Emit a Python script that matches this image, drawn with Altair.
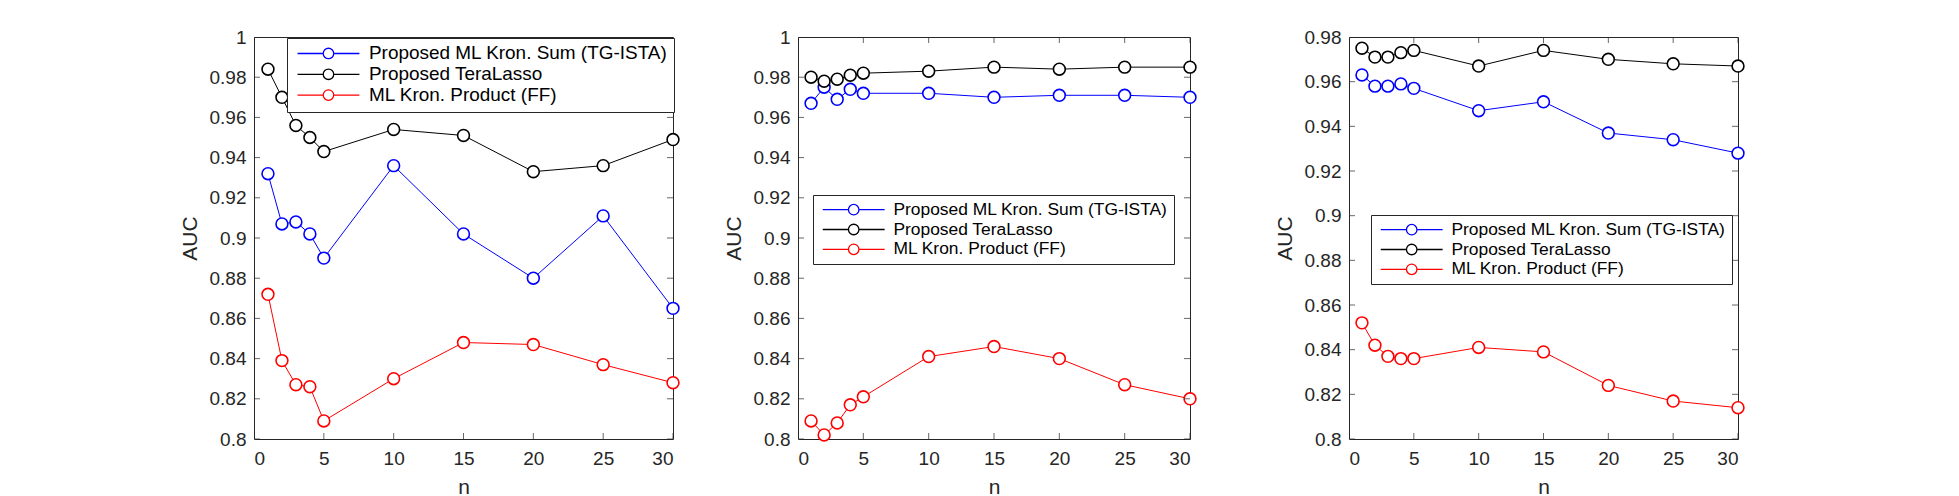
import altair as alt
import pandas as pd

FONT = "Liberation Sans"
INK = "#262626"

n_values = [1, 2, 3, 4, 5, 10, 15, 20, 25, 30]
x_ticks = [0, 5, 10, 15, 20, 25, 30]

series_names = [
    "Proposed ML Kron. Sum (TG-ISTA)",
    "Proposed TeraLasso",
    "ML Kron. Product (FF)",
]
series_colors = ["#0000ff", "#000000", "#ff0000"]

# AUC curves, left panel
p1_kron_sum = [0.932, 0.907, 0.908, 0.902, 0.890, 0.936, 0.902, 0.880, 0.911, 0.865]
p1_teralasso = [0.984, 0.970, 0.956, 0.950, 0.943, 0.954, 0.951, 0.933, 0.936, 0.949]
p1_kron_prod = [0.872, 0.839, 0.827, 0.826, 0.809, 0.830, 0.848, 0.847, 0.837, 0.828]

# AUC curves, middle panel
p2_kron_sum = [0.967, 0.975, 0.969, 0.974, 0.972, 0.972, 0.970, 0.971, 0.971, 0.970]
p2_teralasso = [0.980, 0.978, 0.979, 0.981, 0.982, 0.983, 0.985, 0.984, 0.985, 0.985]
p2_kron_prod = [0.809, 0.802, 0.808, 0.817, 0.821, 0.841, 0.846, 0.840, 0.827, 0.820]

# AUC curves, right panel
p3_kron_sum = [0.963, 0.958, 0.958, 0.959, 0.957, 0.947, 0.951, 0.937, 0.934, 0.928]
p3_teralasso = [0.975, 0.971, 0.971, 0.973, 0.974, 0.967, 0.974, 0.970, 0.968, 0.967]
p3_kron_prod = [0.852, 0.842, 0.837, 0.836, 0.836, 0.841, 0.839, 0.824, 0.817, 0.814]

y_ticks_full = [0.8, 0.82, 0.84, 0.86, 0.88, 0.9, 0.92, 0.94, 0.96, 0.98, 1.0]
y_ticks_short = [0.8, 0.82, 0.84, 0.86, 0.88, 0.9, 0.92, 0.94, 0.96, 0.98]

# legend glyph: line segment, open circle, line segment
LEGEND_GLYPH = "M-5.9,0H-1M1,0A1,1,0,1,1,-1,0A1,1,0,1,1,1,0M1,0H5.9"


def panel(curves, y_ticks, width, height, legend_x, legend_y, legend_font):
    rows = []
    for name, vals in zip(series_names, curves):
        for n, v in zip(n_values, vals):
            rows.append({"n": n, "auc": v, "series": name})
    df = pd.DataFrame(rows)
    y_lo, y_hi = y_ticks[0], y_ticks[-1]

    x_enc = alt.X(
        "n:Q",
        scale=alt.Scale(domain=[0, 30], nice=False, zero=False),
        axis=alt.Axis(values=x_ticks, format="d", title="n"),
    )
    y_enc = alt.Y(
        "auc:Q",
        scale=alt.Scale(domain=[y_lo, y_hi], nice=False, zero=False),
        axis=alt.Axis(values=y_ticks, format=".2~f", title="AUC"),
    )
    legend = alt.Legend(
        title=None,
        orient="none",
        legendX=legend_x,
        legendY=legend_y,
        symbolType=LEGEND_GLYPH,
        symbolSize=110,
        symbolStrokeWidth=1.3,
        symbolFillColor="white",
        symbolOffset=26,
        labelOffset=31,
        labelFontSize=legend_font,
        labelFont=FONT,
        labelColor="#000000",
        labelLimit=0,
        rowPadding=0.8,
        padding=6,
        fillColor="white",
        strokeColor=INK,
    )
    stroke_enc = alt.Stroke(
        "series:N",
        scale=alt.Scale(domain=series_names, range=series_colors),
        legend=legend,
    )

    lines = alt.Chart(df).mark_line(strokeWidth=1).encode(
        x=x_enc, y=y_enc, stroke=stroke_enc, detail="series:N"
    )
    points = alt.Chart(df).mark_point(
        shape="circle", size=140, strokeWidth=1.6, fill="white", fillOpacity=1, opacity=1
    ).encode(x=x_enc, y=y_enc, stroke=stroke_enc)

    # inward tick marks on all four sides of the box
    xt = pd.DataFrame({"n": x_ticks})
    yt = pd.DataFrame({"auc": y_ticks})
    tick_style = dict(color=INK, size=12, thickness=1, clip=True)
    left = alt.Chart(yt).mark_tick(orient="horizontal", **tick_style).encode(
        x=alt.datum(0), y="auc:Q")
    right = alt.Chart(yt).mark_tick(orient="horizontal", **tick_style).encode(
        x=alt.datum(30), y="auc:Q")
    bottom = alt.Chart(xt).mark_tick(orient="vertical", **tick_style).encode(
        x="n:Q", y=alt.datum(y_lo))
    top = alt.Chart(xt).mark_tick(orient="vertical", **tick_style).encode(
        x="n:Q", y=alt.datum(y_hi))

    return alt.layer(lines, points, left, right, bottom, top).properties(
        width=width, height=height
    )


p1 = panel([p1_kron_sum, p1_teralasso, p1_kron_prod], y_ticks_full, 419, 402, 33, 1, 18.95)
p2 = panel([p2_kron_sum, p2_teralasso, p2_kron_prod], y_ticks_full, 392, 402, 15, 158, 17.4)
p3 = panel([p3_kron_sum, p3_teralasso, p3_kron_prod], y_ticks_short, 389, 402, 22, 178, 17.4)

left_pair = (
    alt.hconcat(p1, p2, spacing=39)
    .resolve_scale(stroke="independent")
    .resolve_legend(stroke="independent")
)

chart = (
    alt.hconcat(left_pair, p3, spacing=73)
    .resolve_scale(stroke="independent")
    .resolve_legend(stroke="independent")
    .properties(padding={"left": 178, "top": 27, "right": 0, "bottom": 0}, background="white")
    .configure_view(stroke=INK, strokeWidth=1)
    .configure_axis(
        domain=False,
        ticks=False,
        grid=False,
        labelFont=FONT,
        labelFontSize=19,
        labelColor=INK,
        titleFont=FONT,
        titleFontSize=21,
        titleFontWeight="normal",
        titleColor=INK,
    )
    .configure_axisX(labelPadding=10, titlePadding=8)
    .configure_axisY(labelPadding=8, titlePadding=9)
)

chart.save("out.html", embed_options={"renderer": "svg", "actions": False})
